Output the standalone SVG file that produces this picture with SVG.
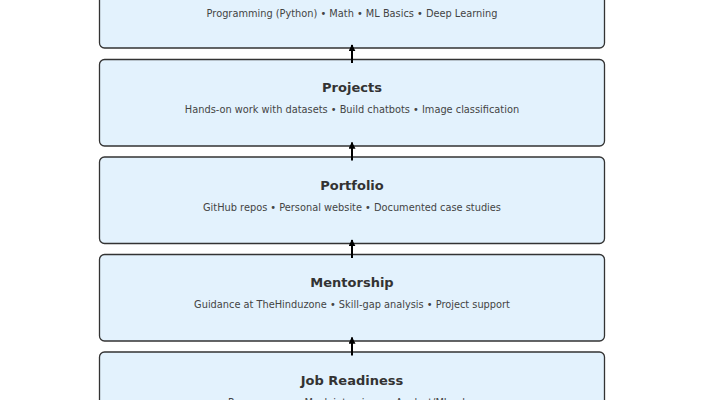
<svg xmlns="http://www.w3.org/2000/svg" width="704" height="400" viewBox="0 0 704 400">
<defs>
<marker id="ah" viewBox="0 0 10 10" refX="9" refY="5" markerWidth="3.5" markerHeight="3.5" orient="auto"><path d="M0,0 L10,5 L0,10 z" fill="#000"/></marker>
<style>
.box{fill:#e3f2fd;stroke:#333;stroke-width:1.3}
.t{font-family:"DejaVu Sans",sans-serif;font-size:13px;font-weight:bold;fill:#333;text-anchor:middle}
.s{font-family:"DejaVu Sans",sans-serif;font-size:9.8px;fill:#444;text-anchor:middle}
.c{stroke:#000;stroke-width:2;fill:none;marker-end:url(#ah)}
</style>
</defs>
<rect width="704" height="400" fill="#fff"/>
<g id="foundations">
<rect class="box" x="99.5" y="-38.5" width="505" height="86.5" rx="5"/>
<text class="t" x="352" y="-5">Foundations</text>
<text class="s" x="352" y="16.5">Programming (Python) • Math • ML Basics • Deep Learning</text>
</g>
<g id="projects">
<rect class="box" x="99.5" y="59.5" width="505" height="86.5" rx="5"/>
<text class="t" x="352" y="92">Projects</text>
<text class="s" x="352" y="113">Hands-on work with datasets • Build chatbots • Image classification</text>
</g>
<g id="portfolio">
<rect class="box" x="99.5" y="157" width="505" height="86.5" rx="5"/>
<text class="t" x="352" y="189.5">Portfolio</text>
<text class="s" x="352" y="210.5">GitHub repos • Personal website • Documented case studies</text>
</g>
<g id="mentorship">
<rect class="box" x="99.5" y="254.5" width="505" height="86.5" rx="5"/>
<text class="t" x="352" y="287">Mentorship</text>
<text class="s" x="352" y="308">Guidance at TheHinduzone • Skill-gap analysis • Project support</text>
</g>
<g id="job-readiness">
<rect class="box" x="99.5" y="352" width="505" height="86.5" rx="5"/>
<text class="t" x="352" y="384.5">Job Readiness</text>
<text class="s" x="352" y="405.5">Resume prep • Mock interviews • Analyst/ML roles</text>
</g>
<g id="connectors">
<line class="c" x1="352" y1="63" x2="352" y2="45"/>
<line class="c" x1="352" y1="160.5" x2="352" y2="142.5"/>
<line class="c" x1="352" y1="258" x2="352" y2="240"/>
<line class="c" x1="352" y1="355.5" x2="352" y2="337.5"/>
</g>
</svg>
